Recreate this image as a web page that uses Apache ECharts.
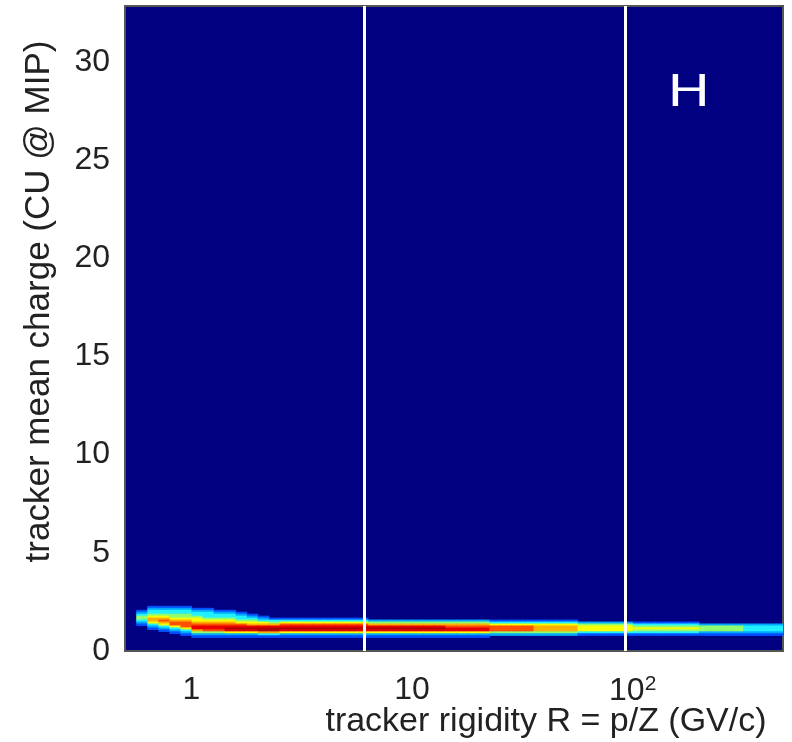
<!DOCTYPE html>
<html><head><meta charset="utf-8">
<script src="https://cdn.jsdelivr.net/npm/echarts@6/dist/echarts.min.js"></script>
<style>html,body{margin:0;padding:0;background:#fff}#c{width:792px;height:742px}</style>
</head><body><div id="c"></div>
<script>
// ---- data ----
const yTicks = [0, 5, 10, 15, 20, 25, 30];
const xTickValues = [1, 10, 100];
const xTickLabels = ['1', '10', '10{sup|2}'];
const cutLines = [6.1, 93];           // white vertical cut lines (GV/c)
const rigidityLogStart = -0.30;       // first bin lower edge, log10(GV/c)
const rigidityLogStep = 0.05;         // bin width in decades
const chargeBinWidth = 0.1;
// lower edge of each charge row, from top to bottom
const chargeBins = [2.2, 2.1, 2.0, 1.9, 1.8, 1.7, 1.6, 1.5, 1.4, 1.3, 1.2, 1.1, 1.0, 0.9, 0.8, 0.7];
// intensity level (0 = empty, 9 = max) per rigidity bin; 60 bins, groups of 10
const countRows = [
  '0011110000 0000000000 0000000000 0000000000 0000000000 0000000000',
  '0022221100 0000000000 0000000000 0000000000 0000000000 0000000000',
  '0133332211 0000000000 0000000000 0000000000 0000000000 0000000000',
  '0233333322 1000000000 0000000000 0000000000 0000000000 0000000000',
  '0344443333 2100000000 0000000000 0000000000 0000000000 0000000000',
  '0455444333 3210000000 0000000000 0000000000 0000000000 0000000000',
  '0466555444 3321111111 1100000000 0000000000 0000000000 0000000000',
  '0367665555 4433333333 3322222222 2221111111 1000000000 0000000000',
  '0256776666 5554555555 5544444444 4443333333 3222221111 1100000000',
  '0135777777 7666777777 7766666666 6665555555 5444443333 3322222222',
  '0023578888 8888888888 8888888887 7777777666 6555554444 4444443333',
  '0012358889 9999999999 9999999998 8887777666 6555555555 5544443333',
  '0001236778 8899888888 8888888888 8887777666 6555554444 4444443333',
  '0000124445 5566555555 5555555555 5554444444 4333333333 3322222222',
  '0000012222 2233222222 2222222222 2222222222 2111111111 1111111111',
  '0000001111 1111111111 1111111111 1110000000 0000000000 0000000000'
];
const levelColors = ['#000080', '#0050ff', '#00a8ff', '#20f0ff', '#90ff70',
                     '#f8ff00', '#ffb000', '#ff5000', '#e80000', '#b00000'];

// ---- build cells ----
const cells = [];
countRows.forEach((row, r) => {
  const digits = row.replace(/\s/g, '');
  for (let i = 0; i < digits.length; i++) {
    const lvl = +digits[i];
    if (!lvl) continue;
    const lo = Math.pow(10, rigidityLogStart + rigidityLogStep * i);
    const hi = Math.pow(10, rigidityLogStart + rigidityLogStep * (i + 1));
    cells.push([lo, hi, chargeBins[r], chargeBins[r] + chargeBinWidth, lvl]);
  }
});

const FONT = 'Liberation Sans';
const chart = echarts.init(document.getElementById('c'));

function renderItem(params, api) {
  const p0 = api.coord([api.value(0), api.value(2)]);
  const p1 = api.coord([api.value(1), api.value(3)]);
  const cs = params.coordSys;
  const rect = echarts.graphic.clipRectByRect(
    { x: p0[0], y: p1[1], width: p1[0] - p0[0] + 0.6, height: p0[1] - p1[1] + 0.6 },
    { x: cs.x, y: cs.y, width: cs.width, height: cs.height });
  if (!rect) return;
  return { type: 'rect', shape: rect, style: { fill: levelColors[api.value(4)] } };
}

chart.setOption({
  animation: false,
  backgroundColor: '#ffffff',
  graphic: [{
    type: 'text', x: 668, y: 70, scaleX: 1.25, z: 100,
    style: { text: 'H', fill: '#ffffff', fontFamily: FONT, fontSize: 46, fontWeight: 'normal' }
  }],
  grid: {
    left: 125, right: 9, top: 6, bottom: 91, show: true,
    containLabel: false, outerBoundsMode: 'none',
    backgroundColor: '#000080', borderColor: '#555555', borderWidth: 2
  },
  xAxis: {
    type: 'log', logBase: 10, min: 0.5, max: 480,
    axisLine: { show: false }, axisTick: { show: false }, splitLine: { show: false },
    axisLabel: {
      margin: 23, fontFamily: FONT, fontSize: 32, color: '#222222',
      showMinLabel: false, showMaxLabel: false,
      formatter: function (v) {
        for (let k = 0; k < xTickValues.length; k++) {
          if (Math.abs(v - xTickValues[k]) < 1e-6 * xTickValues[k]) return xTickLabels[k];
        }
        return '';
      },
      rich: { sup: { fontFamily: FONT, fontSize: 21, color: '#222222', verticalAlign: 'top', padding: [0, 0, 14, 0] } }
    },
    name: 'tracker rigidity R = p/Z (GV/c)', nameLocation: 'middle', nameGap: 54,
    nameMoveOverlap: false,
    nameTextStyle: { fontFamily: FONT, fontSize: 34, color: '#222222', padding: [0, 0, 0, 184] }
  },
  yAxis: {
    type: 'value', min: 0, max: 32.85, interval: 5,
    axisLine: { show: false }, axisTick: { show: false }, splitLine: { show: false },
    axisLabel: {
      margin: 15, fontFamily: FONT, fontSize: 32, color: '#222222', showMaxLabel: false,
      formatter: function (v) { return yTicks.indexOf(v) >= 0 ? String(v) : ''; }
    },
    name: 'tracker mean charge (CU @ MIP)', nameLocation: 'middle', nameGap: 68, nameRotate: 90,
    nameMoveOverlap: false,
    nameTextStyle: { fontFamily: FONT, fontSize: 35, color: '#222222', padding: [0, 0, 0, 54] }
  },
  series: [{
    type: 'custom', renderItem: renderItem, data: cells,
    encode: { x: [0, 1], y: [2, 3] },
    markLine: {
      silent: true, symbol: 'none', label: { show: false },
      lineStyle: { color: '#ffffff', width: 3, type: 'solid' },
      data: cutLines.map(v => ({ xAxis: v }))
    }
  }]
});
</script></body></html>
